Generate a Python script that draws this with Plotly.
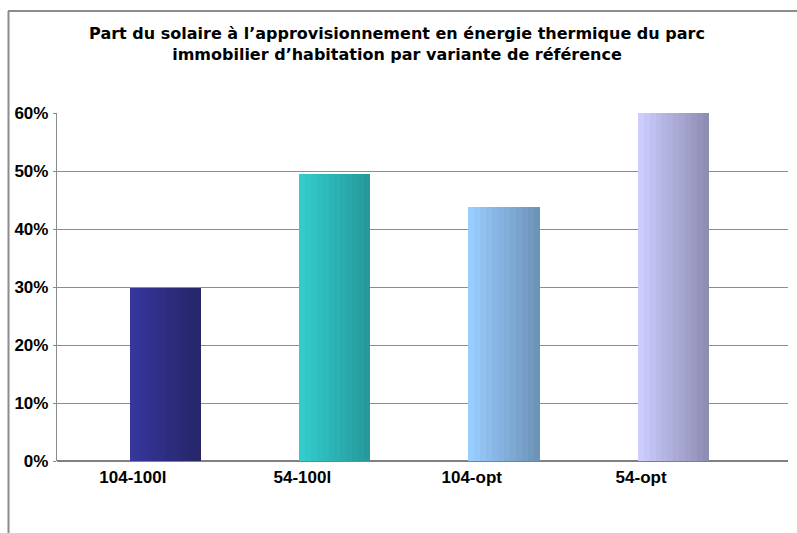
import plotly.graph_objects as go

categories = ["104-100l", "54-100l", "104-opt", "54-opt"]
values = [0.299, 0.494, 0.438, 0.60]
y_ticks = [0, 0.1, 0.2, 0.3, 0.4, 0.5, 0.6]
y_tick_labels = ["0%", "10%", "20%", "30%", "40%", "50%", "60%"]
title_text = ("<b>Part du solaire à l’approvisionnement en énergie thermique du parc<br>"
              "immobilier d’habitation par variante de référence</b>")

# bar gradient (light -> dark), one pair per bar
grad = [("#36369c", "#262668"), ("#33cccc", "#26999a"),
        ("#99ccff", "#6d93b8"), ("#ccccff", "#8e8eb3")]

def hex2rgb(h):
    h = h.lstrip("#")
    return tuple(int(h[i:i + 2], 16) for i in (0, 2, 4))

def mix(c1, c2, t):
    a, b = hex2rgb(c1), hex2rgb(c2)
    return "rgb(%d,%d,%d)" % tuple(round(a[i] + (b[i] - a[i]) * t) for i in range(3))

FONT = "Liberation Sans, Arial, sans-serif"
TFONT = "DejaVu Sans, Liberation Sans, Arial, sans-serif"
bar_w = 0.42
n_strips = 12
fig = go.Figure()
for i, (cat, v) in enumerate(zip(categories, values)):
    c1, c2 = grad[i]
    for k in range(n_strips):
        t = k / (n_strips - 1)
        fig.add_trace(go.Bar(
            x=[i], y=[v], width=bar_w / n_strips + 0.002,
            offset=-bar_w / 2 + k * bar_w / n_strips,
            marker=dict(color=mix(c1, c2, t), line=dict(width=0)),
            showlegend=False, hoverinfo="skip"))

# figure placed at the page origin (body margin removed below)
W, H = 797, 533
L, R, T, B = 57, 9, 113, 72
pw, ph = W - L - R, H - T - B

def px_x(fx):  # page px -> paper x
    return (fx - L) / pw

def px_y(fy):  # page px from top -> paper y
    return (T + ph - fy) / ph

GRAY = "#8c8c8c"
border = dict(color=GRAY, width=2)
label_shift = 0.19
shapes = [
    # left border of the chart frame
    dict(type="line", xref="paper", yref="paper",
         x0=px_x(8.5), x1=px_x(8.5), y0=px_y(11), y1=px_y(H + 5), line=border),
]
# top border of the chart frame, drawn as short consecutive segments
seg_edges = list(range(8, W, 80)) + [W]
for a, b in zip(seg_edges[:-1], seg_edges[1:]):
    shapes.append(dict(type="line", xref="paper", yref="paper",
                       x0=px_x(a), x1=px_x(b + 0.5), y0=px_y(11), y1=px_y(11),
                       line=border))

fig.update_layout(
    width=W, height=H,
    margin=dict(l=L, r=R, t=T, b=B),
    paper_bgcolor="white", plot_bgcolor="white",
    barmode="overlay", bargap=0,
    font=dict(family=FONT, color="black"),
    title=dict(text=title_text, x=397 / W, xanchor="center",
               y=1 - 39 / H, yanchor="top",
               font=dict(family=TFONT, size=16, color="black")),
    xaxis=dict(range=[-0.638, 3.677], tickmode="array",
               tickvals=[i - label_shift for i in range(len(categories))],
               ticktext=["<b>%s</b>" % c for c in categories],
               tickfont=dict(family=FONT, size=17, color="black"),
               showgrid=False, zeroline=False, showline=False, ticks="",
               ticklabelstandoff=4, fixedrange=True),
    yaxis=dict(range=[0, 0.6], tickmode="array", tickvals=y_ticks,
               ticktext=["<b>%s</b>" % t for t in y_tick_labels],
               tickfont=dict(family=FONT, size=17, color="black"),
               showgrid=True, gridcolor=GRAY, gridwidth=1.3,
               zeroline=True, zerolinecolor="#808080", zerolinewidth=2,
               showline=True, linecolor=GRAY, linewidth=1.3,
               ticks="outside", ticklen=3, tickcolor=GRAY,
               ticklabelstandoff=1, fixedrange=True),
    shapes=shapes,
)

fig.write_html("out.html", config={"displayModeBar": False},
               post_script="document.body.style.margin='0';")
